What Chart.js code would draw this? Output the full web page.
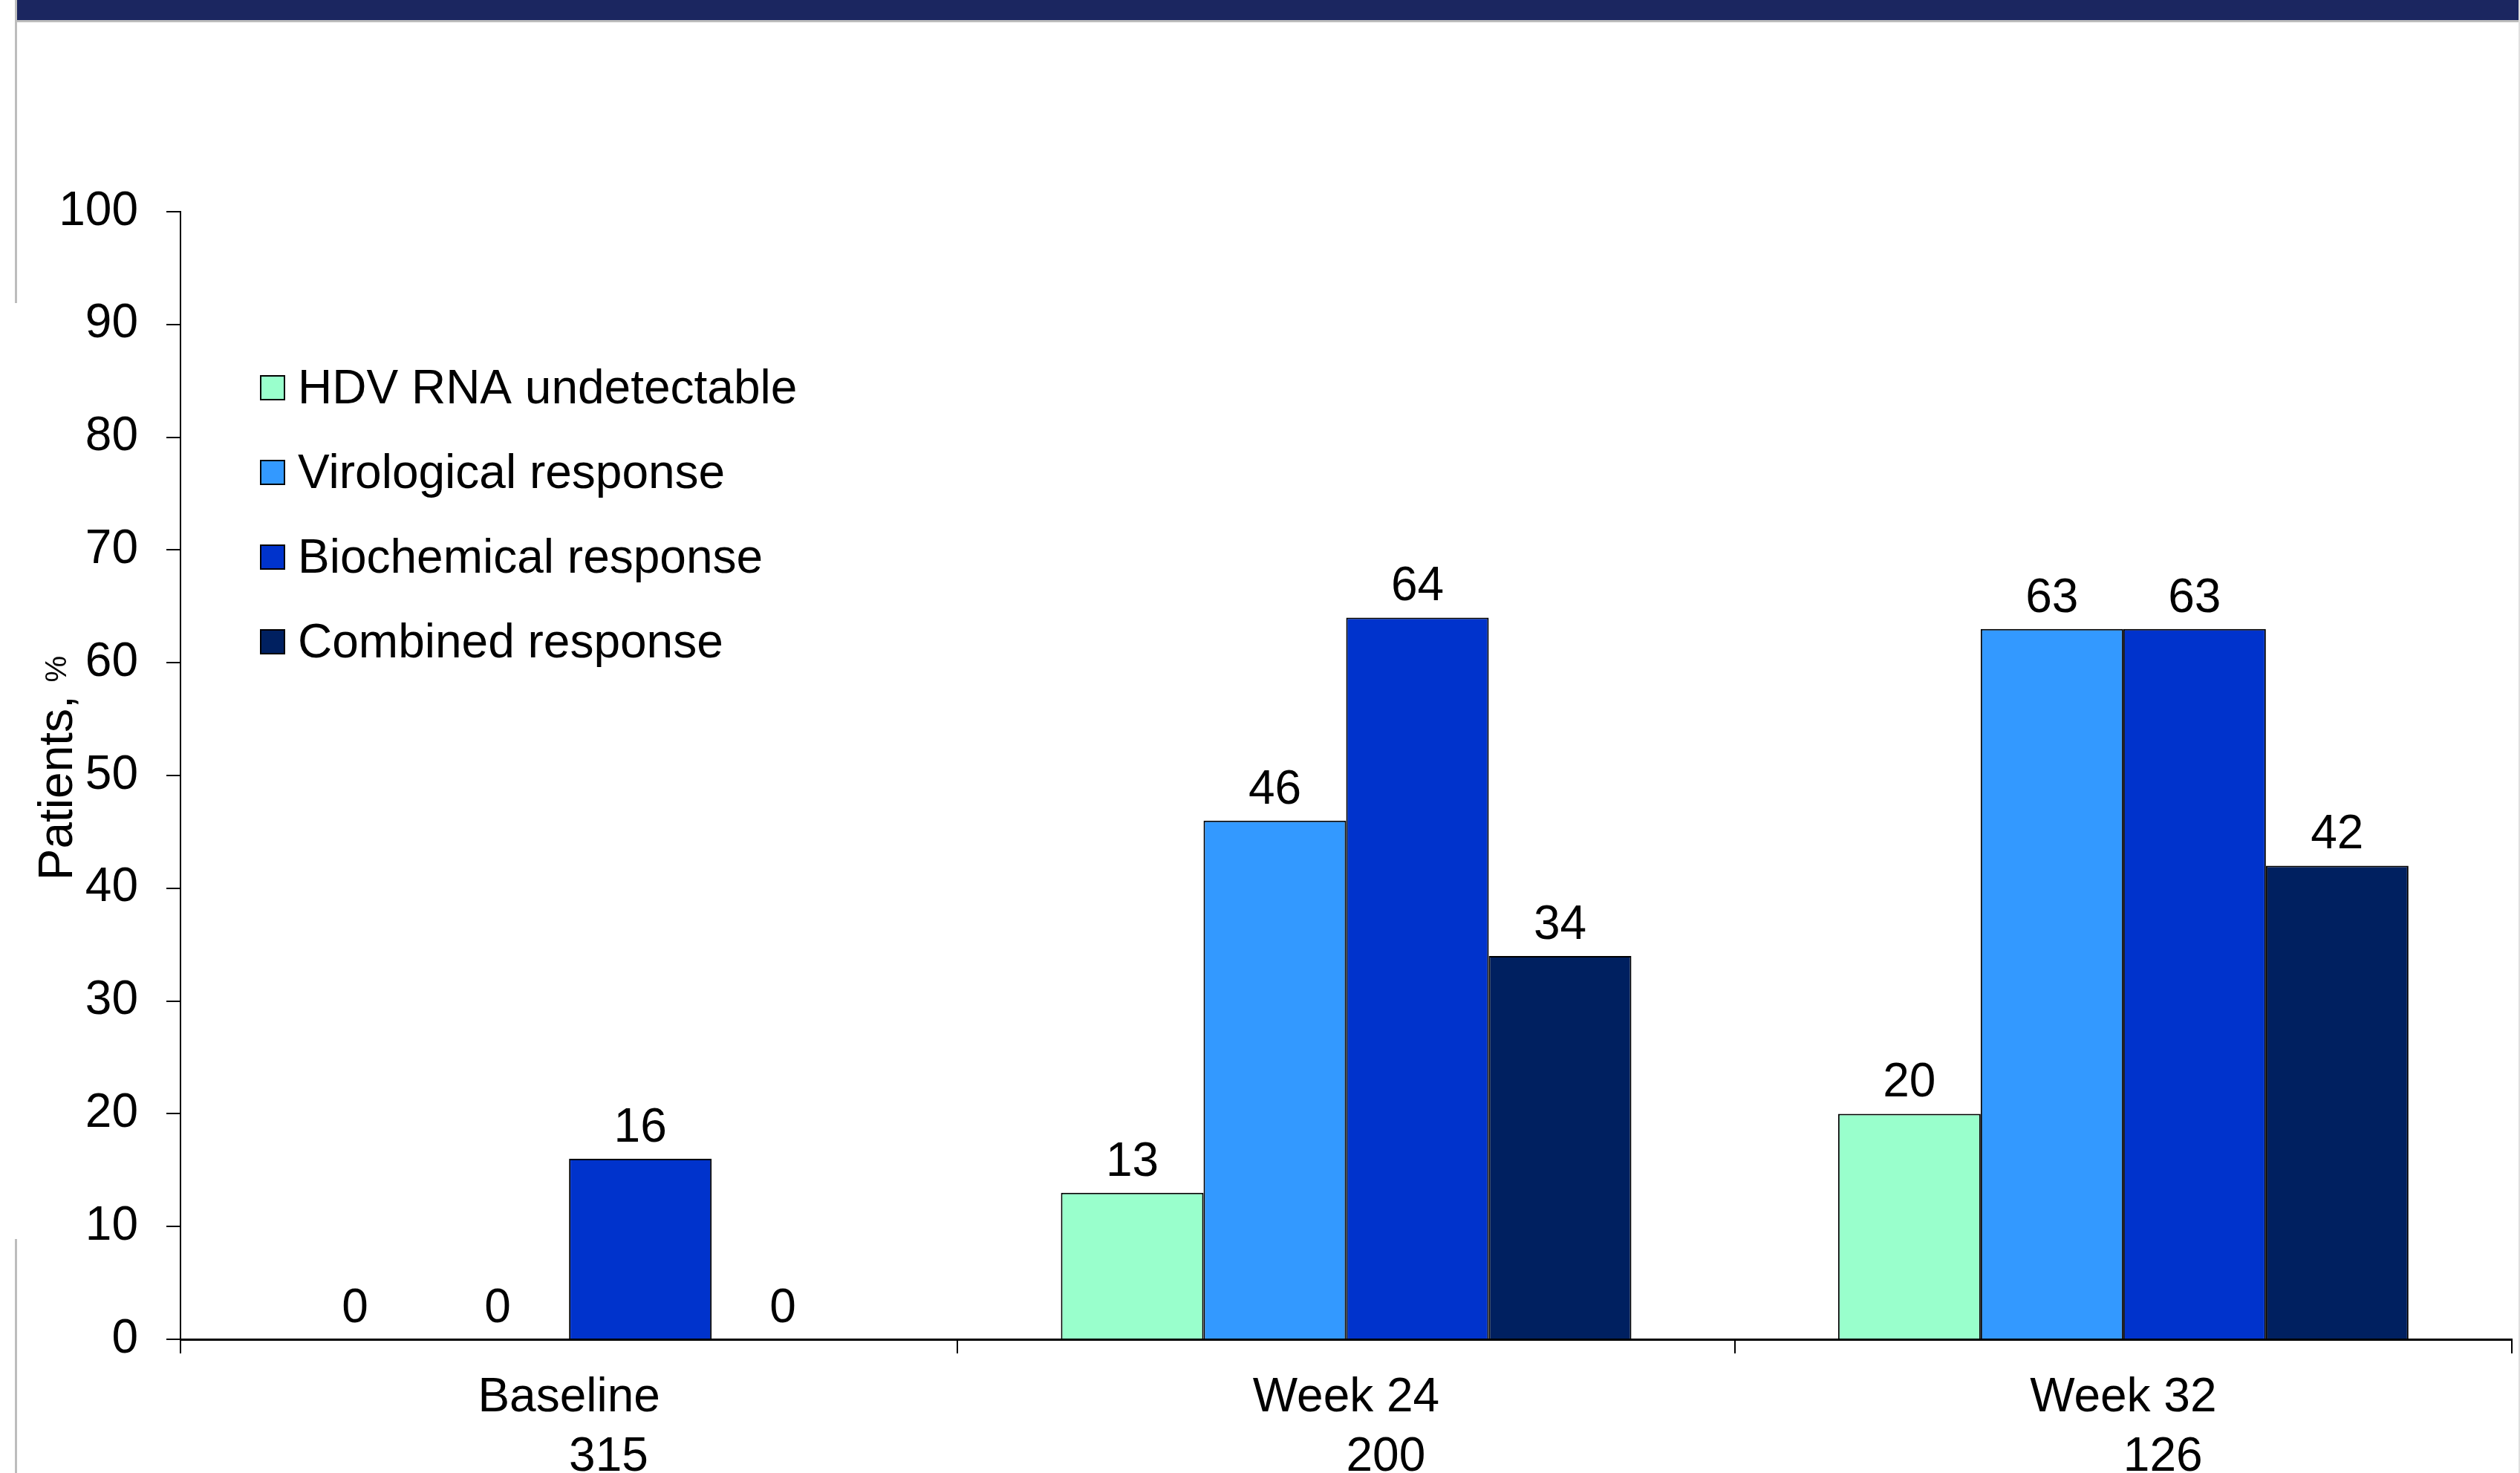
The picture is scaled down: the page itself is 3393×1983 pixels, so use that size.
<!DOCTYPE html>
<html>
<head>
<meta charset="utf-8">
<script src="https://cdn.jsdelivr.net/npm/chart.js@4/dist/chart.umd.min.js"></script>
<style>
  html, body { margin: 0; padding: 0; background: #ffffff; }
  #wrap { position: relative; width: 3393px; height: 1983px; }
  canvas { display: block; }
</style>
</head>
<body>
<div id="wrap"><canvas id="c" width="3393" height="1983"></canvas></div>
<script>
// ---- data ----
const categories = [["Baseline", "      315"], ["Week 24", "      200"], ["Week 32", "      126"]];
const seriesNames = ["HDV RNA undetectable", "Virological response", "Biochemical response", "Combined response"];
const hdvUndetectable = [0, 13, 20];
const virological = [0, 46, 63];
const biochemical = [16, 64, 63];
const combined = [0, 34, 42];
const yTicks = [0, 10, 20, 30, 40, 50, 60, 70, 80, 90, 100];
const yTitle = "Patients,";
const yTitleUnit = "%";

const colors = ["#99FFCC", "#3399FF", "#0033CC", "#002060"];
const FONT = "'Liberation Sans', Arial, sans-serif";

// background decoration (header band, frame lines)
const decoPlugin = {
  id: 'deco',
  beforeDraw(chart) {
    const ctx = chart.ctx;
    ctx.save();
    ctx.fillStyle = '#ffffff';
    ctx.fillRect(0, 0, chart.width, chart.height);
    ctx.fillStyle = '#1B2660';
    ctx.fillRect(21, 0, chart.width - 21, 27);
    ctx.fillStyle = '#BDBDBD';
    ctx.fillRect(21, 27, chart.width - 21, 3);
    ctx.fillRect(20, 0, 3, 408);
    ctx.fillRect(20, 1668, 3, chart.height - 1668);
    ctx.fillStyle = '#E0E0E0';
    ctx.fillRect(chart.width - 2, 0, 2, chart.height);
    ctx.restore();
  }
};

// value labels above bars
const labelPlugin = {
  id: 'vlabels',
  afterDatasetsDraw(chart) {
    const ctx = chart.ctx;
    ctx.save();
    ctx.font = "64px " + FONT;
    ctx.fillStyle = '#000';
    ctx.textAlign = 'center';
    ctx.textBaseline = 'alphabetic';
    chart.data.datasets.forEach((ds, di) => {
      const meta = chart.getDatasetMeta(di);
      meta.data.forEach((el, i) => {
        ctx.fillText(String(ds.data[i]), el.x, el.y - 23);
      });
    });
    ctx.restore();
  }
};

// legend inside plot + y-axis title
const legendPlugin = {
  id: 'inlegend',
  afterDraw(chart) {
    const ctx = chart.ctx;
    ctx.save();
    const x0 = 351, size = 32, y0 = 522, step = 114;
    chart.data.datasets.forEach((ds, i) => {
      const cy = y0 + i * step;
      ctx.fillStyle = ds.backgroundColor;
      ctx.fillRect(x0, cy - size / 2, size, size);
      ctx.strokeStyle = '#000';
      ctx.lineWidth = 2;
      ctx.strokeRect(x0, cy - size / 2, size, size);
      ctx.fillStyle = '#000';
      ctx.font = "64px " + FONT;
      ctx.textAlign = 'left';
      ctx.textBaseline = 'middle';
      ctx.fillText(ds.label, 401, cy + 3);
    });
    // y title
    ctx.translate(74, 1034);
    ctx.rotate(-Math.PI / 2);
    ctx.font = "64px " + FONT;
    const w1 = ctx.measureText(yTitle + " ").width;
    ctx.font = "40px " + FONT;
    const w2 = ctx.measureText(yTitleUnit).width;
    const start = -(w1 + w2) / 2;
    ctx.fillStyle = '#000';
    ctx.textAlign = 'left';
    ctx.textBaseline = 'alphabetic';
    ctx.font = "64px " + FONT;
    ctx.fillText(yTitle + " ", start, 23);
    ctx.font = "40px " + FONT;
    ctx.fillText(yTitleUnit, start + w1, 15);
    ctx.restore();
  }
};

const seriesData = [hdvUndetectable, virological, biochemical, combined];
const datasets = seriesData.map((d, i) => ({
  label: seriesNames[i],
  data: d,
  backgroundColor: colors[i],
  borderColor: '#000',
  borderWidth: 2,
  categoryPercentage: 0.734,
  barPercentage: 1.0
}));

new Chart(document.getElementById('c'), {
  type: 'bar',
  data: { labels: categories, datasets },
  options: {
    responsive: false,
    animation: false,
    layout: { padding: { left: 0, right: 11, top: 285, bottom: 0 } },
    plugins: { legend: { display: false }, tooltip: { enabled: false }, title: { display: false } },
    scales: {
      x: {
        offset: true,
        grid: { display: true, drawOnChartArea: false, drawTicks: true, tickLength: 19, color: '#000', lineWidth: 2, offset: true },
        border: { display: true, color: '#000', width: 3 },
        ticks: { color: '#000', font: { family: FONT, size: 64, lineHeight: 1.25 }, padding: 20, maxRotation: 0, autoSkip: false },
        afterFit(s) { s.height = 180; }
      },
      y: {
        min: 0, max: 100,
        afterBuildTicks(s) { s.ticks = yTicks.map(v => ({ value: v })); },
        grid: { display: true, drawOnChartArea: false, drawTicks: true, tickLength: 19, color: '#000', lineWidth: 2 },
        border: { display: true, color: '#000', width: 2 },
        ticks: { color: '#000', font: { family: FONT, size: 64 }, padding: 38 },
        afterFit(s) { s.width = 243; }
      }
    }
  },
  plugins: [decoPlugin, labelPlugin, legendPlugin]
});
</script>
</body>
</html>
